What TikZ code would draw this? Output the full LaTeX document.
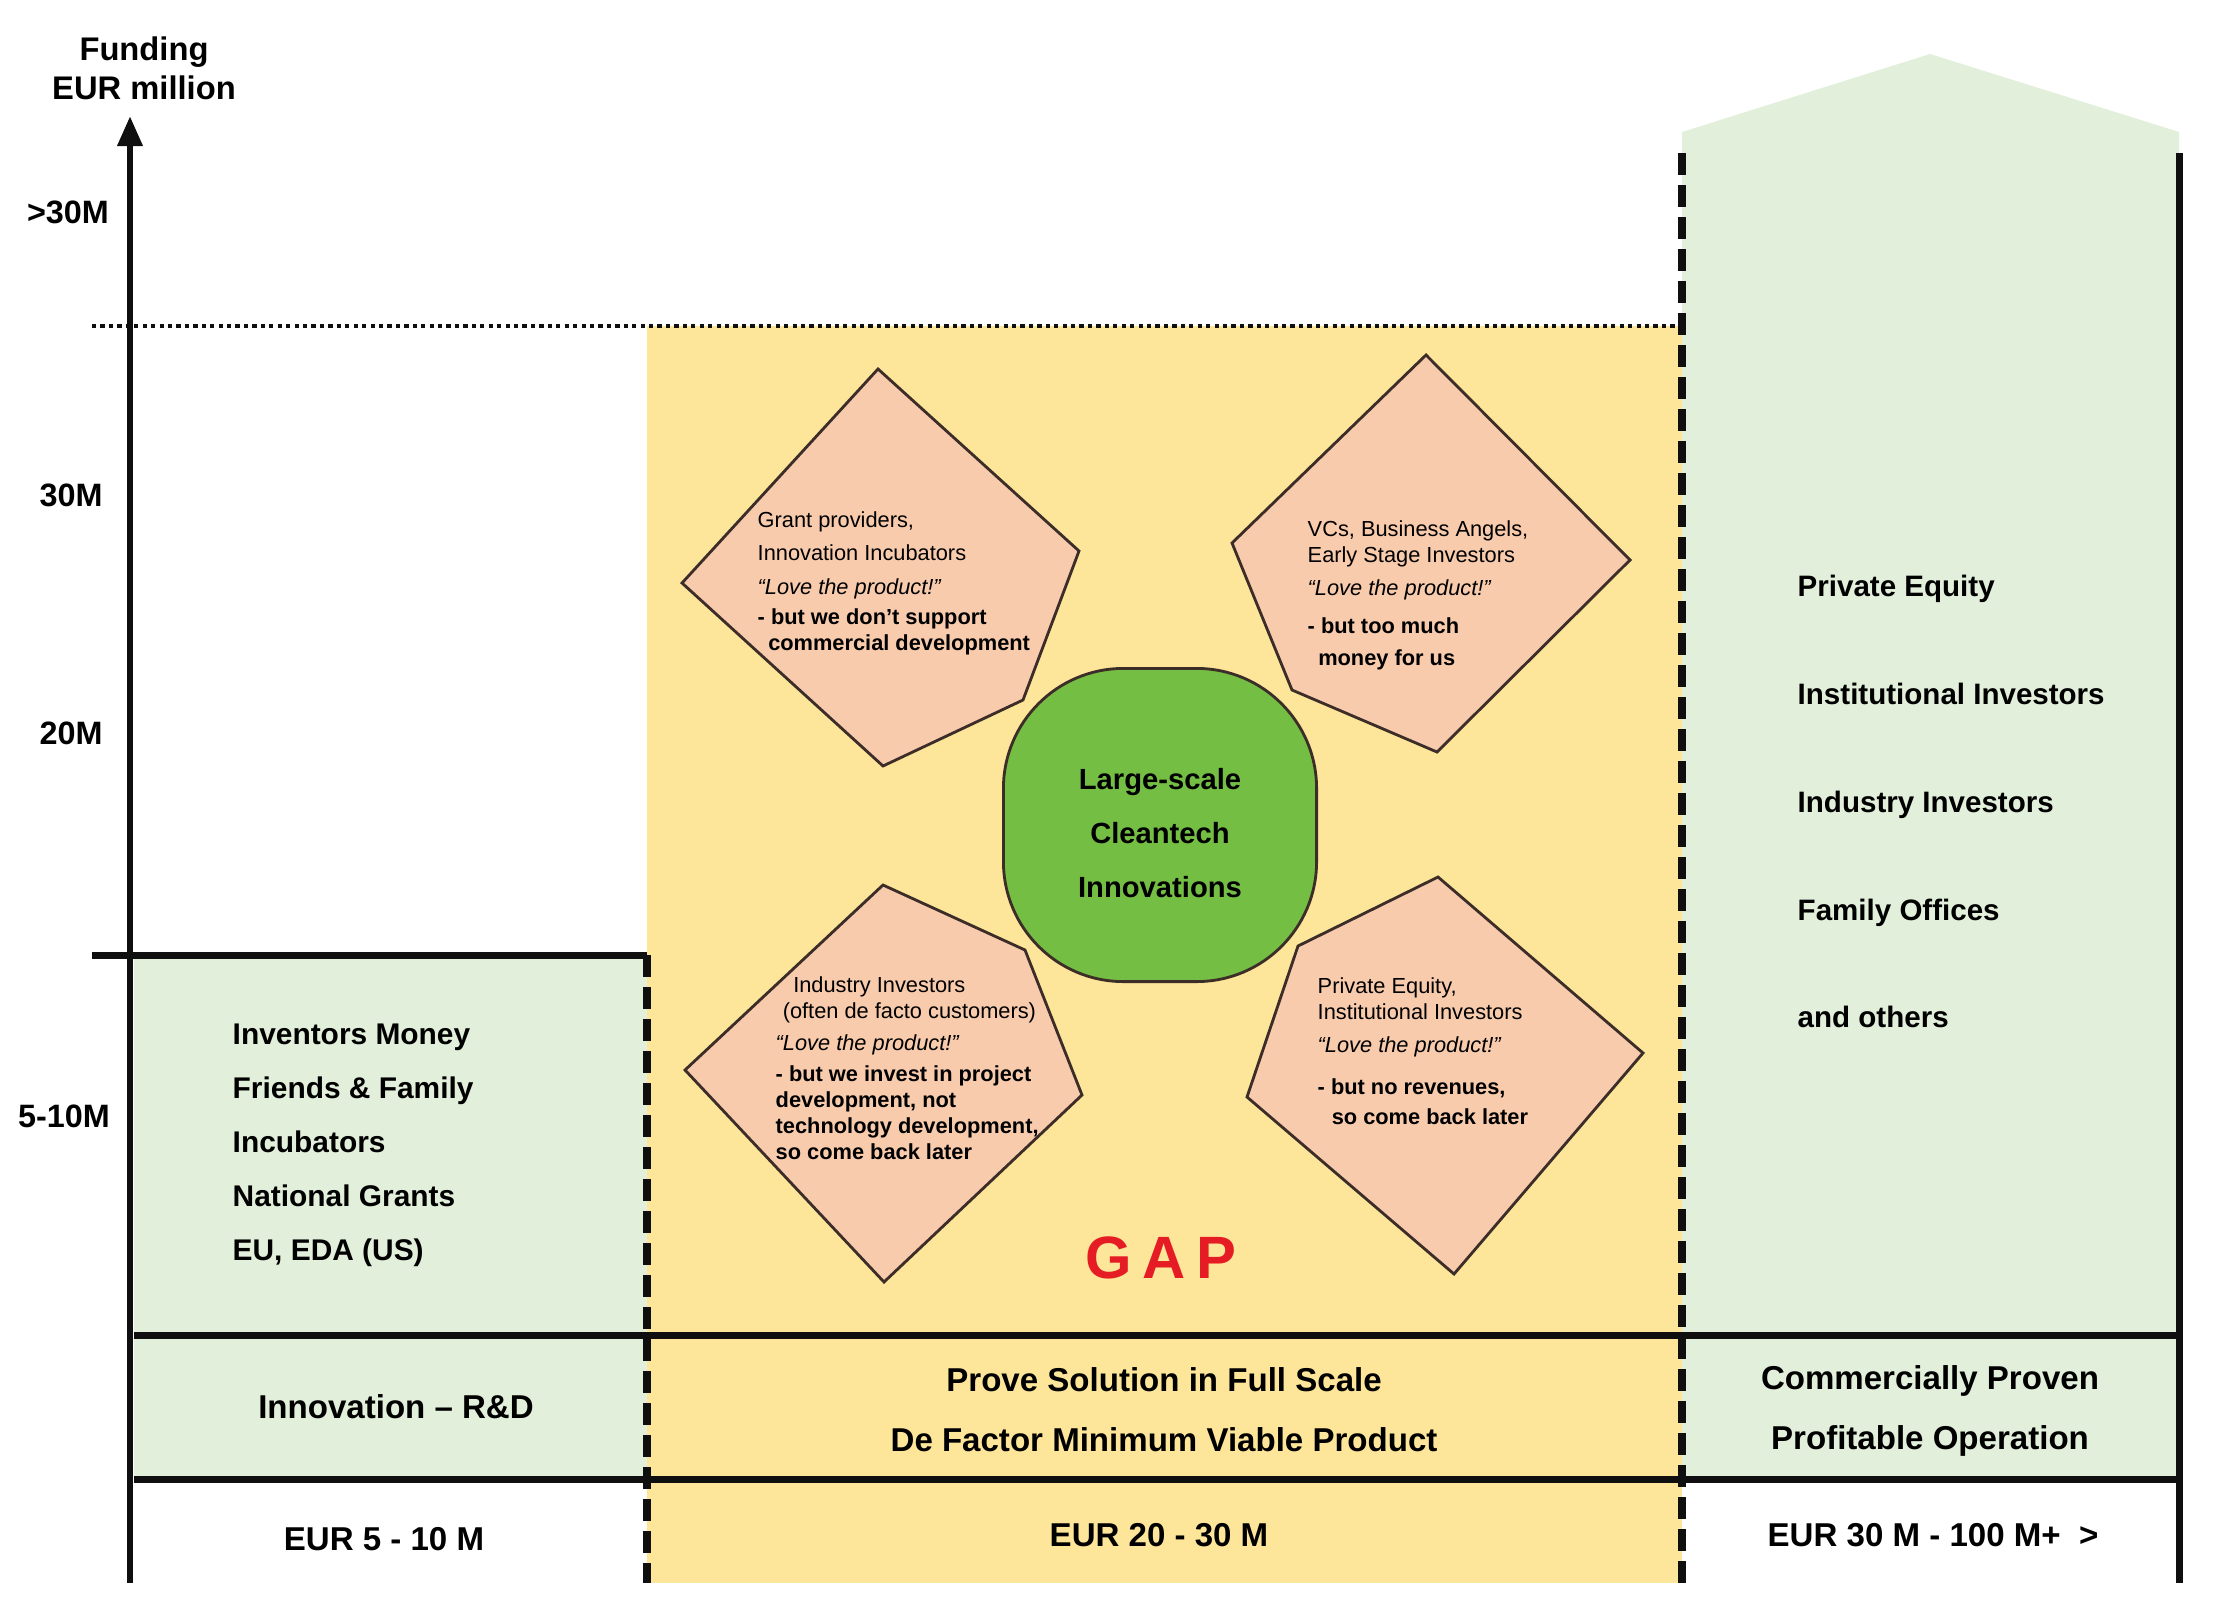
\documentclass[tikz,border=0pt]{standalone}
\usepackage{fontspec}
\setmainfont{Liberation Sans}
\usepackage{tikz}
\usetikzlibrary{arrows.meta, positioning, calc}
\definecolor{mydark}{RGB}{15,15,15}
\definecolor{myline}{RGB}{60,45,40}
\definecolor{myred}{RGB}{230,28,36}
\definecolor{mygreen}{RGB}{116,190,68}
\definecolor{hdryellow}{RGB}{253,229,153}
\definecolor{hdrgreen}{RGB}{226,239,218}
\definecolor{hdrsalmon}{RGB}{248,203,173}
\tikzset{
  axis/.style={-{Triangle[length=0.3cm, width=0.24cm]}, line width=1.9pt, color=mydark},
  line/.style={line width=2pt, color=mydark},
  dashline/.style={line width=2.2pt, color=mydark, dash pattern=on 6.3pt off 2.8pt},
  dotline/.style={line width=1.3pt, color=mydark, dash pattern=on 1.2pt off 1.2pt},
  pent/.style={draw=myline, fill=hdrsalmon, line width=0.8pt, line join=miter},
  core/.style={rectangle, draw=myline, fill=mygreen, minimum width=3.13cm,
    minimum height=3.13cm, rounded corners=1.2cm, line width=0.8pt},
  coretext/.style={align=center, inner sep=0pt,
    font=\fontsize{8.3}{15.3}\selectfont\bfseries},
  ticklabel/.style={font=\fontsize{9.2}{11}\selectfont\bfseries, inner sep=0pt},
  list/.style={align=left, anchor=north west, inner sep=0pt},
  band/.style={align=center, inner sep=0pt, font=\fontsize{9.4}{17}\selectfont\bfseries},
  note/.style={align=left, anchor=north west, inner sep=0pt,
    font=\fontsize{6.2}{7.4}\selectfont}
}

\begin{document}
\begin{tikzpicture}[x=0.01cm, y=-0.01cm]
  \useasboundingbox (0,0) rectangle (2216,1621);
  \fill[hdrgreen] (134,955) rectangle (647,1479);
  \fill[hdryellow] (647,326) rectangle (1682,1583);
  \fill[hdrgreen] (1682,1479) -- (1682,132) -- (1930,54) -- (2179,132) -- (2179,1479) -- cycle;

  \coordinate (axbot) at (130,1583);
  \coordinate (axtop) at (130,116);
  \draw[axis] (axbot) -- (axtop);
  \node[align=center, inner sep=0pt, font=\fontsize{9.3}{11}\selectfont\bfseries] (ylabel) at (144,68) {Funding\\EUR million};
  \node[ticklabel] (t30plus) at (68,212) {>30M};
  \node[ticklabel] (t30) at (71,495) {30M};
  \node[ticklabel] (t20) at (71,733) {20M};
  \node[ticklabel] (t5) at (64,1116) {5-10M};

  \draw[dotline] (92,326) -- (1682,326);
  \draw[line] (92,955) -- (647,955);
  \draw[line] (134,1335) -- (2179,1335);
  \draw[line] (134,1479) -- (2179,1479);
  \draw[dashline] (647,955) -- (647,1583);
  \draw[dashline] (1682,153) -- (1682,1583);
  \draw[line] (2179,153) -- (2179,1583);

  \draw[pent] (878,369) -- (1079,551) -- (1023,700) -- (883,766) -- (682,583) -- cycle;
  \draw[pent] (1426,355) -- (1630,560) -- (1437,752) -- (1292,690) -- (1232,543) -- cycle;
  \draw[pent] (883,885) -- (1025,950) -- (1082,1095) -- (884,1282) -- (685,1070) -- cycle;
  \draw[pent] (1438,877) -- (1643,1053) -- (1454,1274) -- (1247,1097) -- (1298,946) -- cycle;

  \node[note] (grant) at (757,511) {Grant providers,\\[2pt]
    Innovation Incubators\\[2.3pt]
    \textit{“Love the product!”}\\[1.1pt]
    \textbf{- but we don’t support}\\
    \textbf{\hspace*{3pt}commercial development}};
  \node[note] (vcs) at (1307,520) {VCs, Business Angels,\\
    Early Stage Investors\\[2pt]
    \textit{“Love the product!”}\\[3.4pt]
    \textbf{- but too much}\\[1.7pt]
    \textbf{\hspace*{3pt}money for us}};
  \node[note] (industry) at (775,976) {\hspace*{5pt}Industry Investors\\
    \hspace*{2pt}(often de facto customers)\\[1.7pt]
    \textit{“Love the product!”}\\[1.4pt]
    \textbf{- but we invest in project}\\
    \textbf{development, not}\\
    \textbf{technology development,}\\
    \textbf{so come back later}};
  \node[note] (equity) at (1317,977) {Private Equity,\\
    Institutional Investors\\[2pt]
    \textit{“Love the product!”}\\[4.6pt]
    \textbf{- but no revenues,}\\[1.1pt]
    \textbf{\hspace*{4pt}so come back later}};

  \node[core] (core) at (1160,825) {};
  \node[coretext] (coretxt) at ($(core.center)+(0,8)$) {Large-scale\\Cleantech\\Innovations};
  \node[font=\fontsize{17}{17}\selectfont\bfseries, text=myred, inner sep=0pt] (gap) at (1161,1258) {G\hspace{3pt}A\hspace{3pt}P};

  \node[list, font=\fontsize{8.5}{15.4}\selectfont\bfseries] (early) at (232,1023)
    {Inventors Money\\Friends \& Family\\Incubators\\National Grants\\EU, EDA (US)};
  \node[list, font=\fontsize{8.4}{30.7}\selectfont\bfseries] (late) at (1797,574)
    {Private Equity\\Institutional Investors\\Industry Investors\\Family Offices\\and others};

  \node[band] (stage1) at (396,1407) {Innovation – R\&D};
  \node[band] (stage2) at (1164,1410) {Prove Solution in Full Scale\\De Factor Minimum Viable Product};
  \node[band] (stage3) at (1930,1411) {Commercially Proven\\Profitable Operation};
  \node[band] (eur1) at (384,1539) {EUR 5 - 10 M};
  \node[band] (eur2) at (1159,1535) {EUR 20 - 30 M};
  \node[band] (eur3) at (1933,1535) {EUR 30 M - 100 M+\ \ >};
\end{tikzpicture}
\end{document}
